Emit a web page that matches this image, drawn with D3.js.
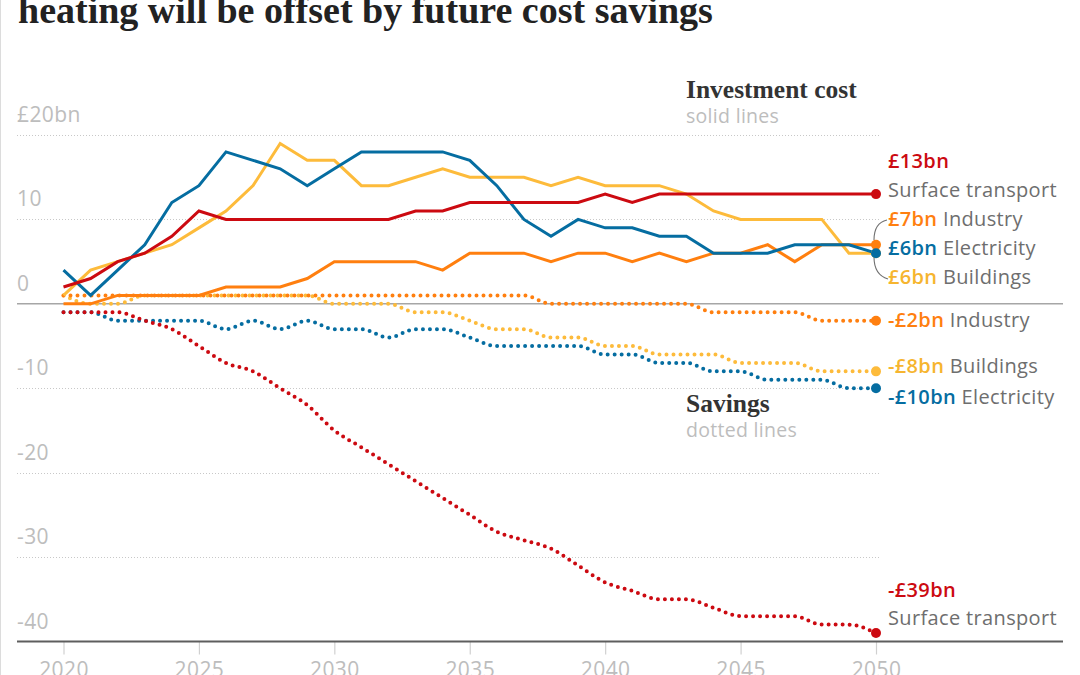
<!DOCTYPE html>
<html>
<head>
<meta charset="utf-8">
<script src="https://cdn.jsdelivr.net/npm/d3@7"></script>
<style>
  html, body { margin: 0; padding: 0; background: #fff; }
  svg { display: block; }
</style>
</head>
<body>
<svg id="chart" width="1080" height="675"></svg>
<script>
// ---------- DATA ----------
const years = [2020,2021,2022,2023,2024,2025,2026,2027,2028,2029,2030,2031,2032,2033,2034,2035,2036,2037,2038,2039,2040,2041,2042,2043,2044,2045,2046,2047,2048,2049,2050];

// Investment cost (solid lines), £bn
const investBuildings   = [1,4,5,6,7,9,11,14,19,17,17,14,14,15,16,15,15,15,14,15,14,14,14,13,11,10,10,10,10,6,6];
const investIndustry    = [0,0,1,1,1,1,2,2,2,3,5,5,5,5,4,6,6,6,5,6,6,5,6,5,6,6,7,5,7,7,7];
const investElectricity = [4,1,4,7,12,14,18,17,16,14,16,18,18,18,18,17,14,10,8,10,9,9,8,8,6,6,6,7,7,7,6];
const investTransport   = [2,3,5,6,8,11,10,10,10,10,10,10,10,11,11,12,12,12,12,12,13,12,13,13,13,13,13,13,13,13,13];

// Savings (dotted lines), £bn
const savingsBuildings   = [1,0,0,1,1,1,1,1,1,1,0,0,0,-1,-1,-2,-3,-3,-4,-4,-5,-5,-6,-6,-6,-7,-7,-7,-8,-8,-8];
const savingsIndustry    = [1,1,1,1,1,1,1,1,1,1,1,1,1,1,1,1,1,1,0,0,0,0,0,0,-1,-1,-1,-1,-2,-2,-2];
const savingsElectricity = [-1,-1,-2,-2,-2,-2,-3,-2,-3,-2,-3,-3,-4,-3,-3,-4,-5,-5,-5,-5,-6,-6,-7,-7,-8,-8,-9,-9,-9,-10,-10];
const savingsTransport   = [-1,-1,-1,-2,-3,-5,-7,-8,-10,-12,-15,-17,-19,-21,-23,-25,-27,-28,-29,-31,-33,-34,-35,-35,-36,-37,-37,-37,-38,-38,-39];

const yTickValues = [-40,-30,-20,-10,0,10,20];
const yTickLabels = ["-40","-30","-20","-10","0","10","£20bn"];
const xTickValues = [2020,2025,2030,2035,2040,2045,2050];

const sectorNames = ["Buildings","Industry","Electricity","Surface transport"];
const investLabels  = ["£6bn","£7bn","£6bn","£13bn"];
const savingsLabels = ["-£8bn","-£2bn","-£10bn","-£39bn"];

const titleText = "heating will be offset by future cost savings";

// ---------- STYLE ----------
const colors = {
  "Buildings": "#fdbb3b",
  "Industry": "#ff7f0f",
  "Electricity": "#056da1",
  "Surface transport": "#cc0a11"
};
const textColors = {
  "Buildings": "#f6b52f",
  "Industry": "#ff7f0f",
  "Electricity": "#056da1",
  "Surface transport": "#cc0a11"
};
const sans = "'Open Sans', 'Noto Sans', sans-serif";
const serif = "'Liberation Serif', 'DejaVu Serif', serif";

const svg = d3.select("#chart");

const x = d3.scaleLinear().domain([2020, 2050]).range([63.5, 876]);
const y = d3.scaleLinear().domain([-40, 20]).range([641.5, 135]);

// left frame line
svg.append("line").attr("x1", 0.5).attr("x2", 0.5).attr("y1", 0).attr("y2", 675)
  .attr("stroke", "#dcdcdc").attr("stroke-width", 1);

// title (cut off at the top, as in the source)
svg.append("text").attr("x", 18).attr("y", 23)
  .attr("font-family", serif).attr("font-weight", 700).attr("font-size", 38)
  .attr("fill", "#222").text(titleText);

// ---------- GRID ----------
const gridVals = yTickValues.filter(v => v !== 0 && v !== -40);
svg.append("g").selectAll("line").data(gridVals).join("line")
  .attr("x1", 17).attr("x2", 880)
  .attr("y1", d => Math.round(y(d)) + 0.5).attr("y2", d => Math.round(y(d)) + 0.5)
  .attr("stroke", "#c8c8c8").attr("stroke-width", 1).attr("stroke-dasharray", "1,2");

// zero line
svg.append("line").attr("x1", 17).attr("x2", 1063)
  .attr("y1", y(0)).attr("y2", y(0))
  .attr("stroke", "#a6a6a6").attr("stroke-width", 1.5);

// y labels
svg.append("g").selectAll("text").data(yTickValues).join("text")
  .attr("x", 17).attr("y", d => y(d) - 13)
  .attr("font-family", sans).attr("font-size", 21).attr("letter-spacing", 0.4).attr("fill", "#bdbdbd")
  .text((d, i) => yTickLabels[i]);

// x axis
const xAxis = d3.axisBottom(x).tickValues(xTickValues).tickFormat(d3.format("d")).tickSize(13).tickPadding(8);
const gx = svg.append("g").attr("transform", `translate(0,${y(-40)})`).call(xAxis);
gx.select(".domain").remove();
gx.selectAll(".tick line").attr("stroke", "#d0d0d0").attr("stroke-width", 1.2);
gx.selectAll(".tick text").attr("font-family", sans).attr("font-size", 21).attr("letter-spacing", 0.4).attr("fill", "#bdbdbd");
svg.append("line").attr("x1", 17).attr("x2", 1063)
  .attr("y1", y(-40)).attr("y2", y(-40))
  .attr("stroke", "#5e5e5e").attr("stroke-width", 2);

// ---------- LINES ----------
const investSeries = [investBuildings, investIndustry, investElectricity, investTransport];
const savingsSeries = [savingsBuildings, savingsIndustry, savingsElectricity, savingsTransport];

const dottedLine = d3.line().x((d, i) => x(years[i])).y(d => y(d)).curve(d3.curveMonotoneX);
const solidLine = d3.line().x((d, i) => x(years[i])).y(d => y(d));

const gDot = svg.append("g");
savingsSeries.forEach((s, k) => {
  gDot.append("path").attr("d", dottedLine(s)).attr("fill", "none")
    .attr("stroke", colors[sectorNames[k]]).attr("stroke-width", 4)
    .attr("stroke-linecap", "round").attr("stroke-dasharray", "0 7");
});

// bracket for the cluster of investment labels
svg.append("path")
  .attr("d", "M887,220 C878,222 874,229 874,240 M874,257 C874,268 878,276 888,279")
  .attr("fill", "none").attr("stroke", "#707070").attr("stroke-width", 1.1);

const gSolid = svg.append("g");
investSeries.forEach((s, k) => {
  gSolid.append("path").attr("d", solidLine(s)).attr("fill", "none")
    .attr("stroke", colors[sectorNames[k]]).attr("stroke-width", 3)
    .attr("stroke-linejoin", "miter");
});

// end dots
const endDots = [];
savingsSeries.forEach((s, k) => endDots.push({v: s[s.length - 1], c: colors[sectorNames[k]]}));
investSeries.forEach((s, k) => endDots.push({v: s[s.length - 1], c: colors[sectorNames[k]]}));
svg.append("g").selectAll("circle").data(endDots).join("circle")
  .attr("cx", x(2050)).attr("cy", d => y(d.v)).attr("r", 5).attr("fill", d => d.c);

// ---------- LABELS ----------
function twoPart(xp, yp, val, name, col) {
  const t = svg.append("text").attr("x", xp).attr("y", yp)
    .attr("font-family", sans).attr("font-size", 20).attr("letter-spacing", 0.35);
  if (val) t.append("tspan").attr("fill", col).attr("font-weight", 600).text(val);
  if (name) t.append("tspan").attr("fill", "#6e6e6e").attr("font-weight", 400).text((val ? " " : "") + name);
}
const lx = 888;
const last = a => a[a.length - 1];
// investment
twoPart(lx, y(last(investTransport)) - 26, investLabels[3], null, textColors["Surface transport"]);
twoPart(lx, y(last(investTransport)) + 3, null, sectorNames[3], null);
twoPart(lx, y(last(investIndustry)) - 19, investLabels[1], sectorNames[1], textColors["Industry"]);
twoPart(lx, y(last(investElectricity)) + 2, investLabels[2], sectorNames[2], textColors["Electricity"]);
twoPart(lx, y(last(investBuildings)) + 31, investLabels[0], sectorNames[0], textColors["Buildings"]);
// savings
twoPart(lx, y(last(savingsIndustry)) + 6, savingsLabels[1], sectorNames[1], textColors["Industry"]);
twoPart(lx, y(last(savingsBuildings)) + 2, savingsLabels[0], sectorNames[0], textColors["Buildings"]);
twoPart(lx, y(last(savingsElectricity)) + 16, savingsLabels[2], sectorNames[2], textColors["Electricity"]);
twoPart(lx, y(last(savingsTransport)) - 36, savingsLabels[3], null, textColors["Surface transport"]);
twoPart(lx, y(last(savingsTransport)) - 8, null, sectorNames[3], null);

// annotations
svg.append("text").attr("x", 686).attr("y", 98)
  .attr("font-family", serif).attr("font-weight", 700).attr("font-size", 25.5).attr("fill", "#333")
  .text("Investment cost");
svg.append("text").attr("x", 686).attr("y", 123)
  .attr("font-family", sans).attr("font-size", 19.5).attr("letter-spacing", 0.3).attr("fill", "#bdbdbd")
  .text("solid lines");
svg.append("text").attr("x", 686).attr("y", 412)
  .attr("font-family", serif).attr("font-weight", 700).attr("font-size", 25.5).attr("fill", "#333")
  .text("Savings");
svg.append("text").attr("x", 686).attr("y", 437)
  .attr("font-family", sans).attr("font-size", 19.5).attr("letter-spacing", 0.3).attr("fill", "#bdbdbd")
  .text("dotted lines");
</script>
</body>
</html>
